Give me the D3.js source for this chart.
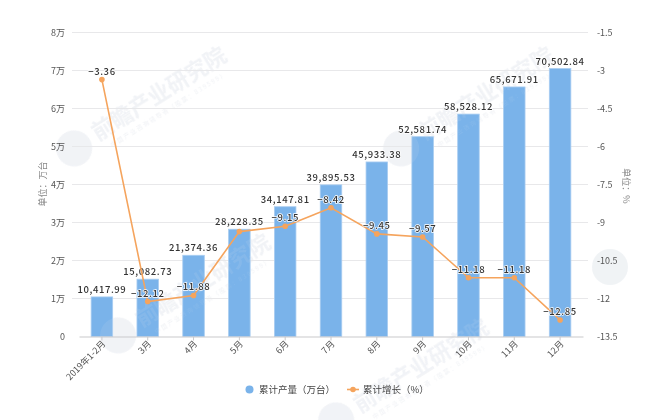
<!DOCTYPE html>
<html><head><meta charset="utf-8">
<script src="https://cdn.jsdelivr.net/npm/d3@7/dist/d3.min.js"></script>
<style>html,body{margin:0;padding:0;background:#fff}svg{display:block}text{font-family:"Noto Sans CJK SC","Noto Sans",sans-serif}#root{filter:blur(0.35px)}</style>
</head><body><svg id="c" width="650" height="420"><g id="root"></g></svg>
<script>
const categories=["2019年1-2月","3月","4月","5月","6月","7月","8月","9月","10月","11月","12月"];
const output=[10417.99,15082.73,21374.36,28228.35,34147.81,39895.53,45933.38,52581.74,58528.12,65671.91,70502.84];
const growth=[-3.36,-12.12,-11.88,-9.36,-9.15,-8.42,-9.45,-9.57,-11.18,-11.18,-12.85];
const growthLabels=["−3.36","−12.12","−11.88","","−9.15","−8.42","−9.45","−9.57","−11.18","−11.18","−12.85"];
const leftTicks=[0,10000,20000,30000,40000,50000,60000,70000,80000];
const rightTicks=[-1.5,-3,-4.5,-6,-7.5,-9,-10.5,-12,-13.5];
const legendNames=["累计产量（万台）","累计增长（%）"];
const unitLeft="单位：万台", unitRight="单位：%";
const wmMain="前瞻产业研究院", wmSub="中国产业咨询领导者（股票：839599）";

const svg=d3.select("#root");
const x=d3.scaleBand().domain(categories).range([79,583]).paddingInner(0.53).paddingOuter(0.265);
const yL=d3.scaleLinear().domain([0,80000]).range([336.5,32.5]);
const yR=d3.scaleLinear().domain([-13.5,-1.5]).range([336.5,32.5]);
const cx=d=>x(d)+x.bandwidth()/2;
const blue="#7ab3ea", orange="#f5a45d", fmt=d3.format(",.2f");

function wm(px,py,op){
  const g=svg.append("g").attr("transform",`translate(${px},${py}) rotate(-32)`).attr("fill","#e6e9ef").attr("opacity",op);
  g.append("text").attr("text-anchor","middle").attr("font-size",22).attr("font-weight",700).text(wmMain);
  g.append("text").attr("text-anchor","middle").attr("y",13).attr("font-size",6).attr("letter-spacing",1.6).text(wmSub);
  g.append("circle").attr("cx",-101).attr("cy",-6).attr("r",18);
}
function wmAll(op){
  wm(163,100,op);wm(490,100,op);wm(207,287,op);wm(425,372,op);
  svg.append("circle").attr("cx",610).attr("cy",267).attr("r",18).attr("fill","#e6e9ef").attr("opacity",op);
}
wmAll(0.5);

// grid
svg.append("g").selectAll("line").data(leftTicks.slice(1)).join("line")
  .attr("x1",72).attr("x2",588).attr("y1",d=>yL(d)).attr("y2",d=>yL(d))
  .attr("stroke","#e8e8ea").attr("stroke-width",1.2);

// bars
svg.append("g").selectAll("rect").data(output).join("rect")
  .attr("x",(d,i)=>x(categories[i])).attr("width",x.bandwidth())
  .attr("y",d=>yL(d)).attr("height",d=>yL(0)-yL(d))
  .attr("fill",blue).attr("stroke","#a9cdf1").attr("stroke-width",0.8);

// faint pass of the watermark over the bars
wmAll(0.1);

// axes
const gx=svg.append("g").attr("transform","translate(0,336.5)").call(d3.axisBottom(x).tickSize(4).tickSizeOuter(0));
gx.select(".domain").attr("stroke","#c9c9cc").attr("stroke-width",1.2);
gx.selectAll(".tick line").attr("stroke","#c9c9cc");
gx.selectAll("text").attr("font-size",9).attr("fill","#555")
  .attr("text-anchor","end").attr("dx",3).attr("dy",4)
  .attr("transform","rotate(-45)").style("transform-origin","0 8px");

const gl=svg.append("g").attr("transform","translate(68,0)").call(
  d3.axisLeft(yL).tickValues(leftTicks).tickSize(0).tickFormat(d=>d===0?"0":(d/10000)+"万"));
gl.select(".domain").remove();
gl.selectAll("text").attr("font-size",9).attr("fill","#555");

const gr=svg.append("g").attr("transform","translate(594,0)").call(
  d3.axisRight(yR).tickValues(rightTicks).tickSize(0).tickFormat(d=>String(d)));
gr.select(".domain").remove();
gr.selectAll("text").attr("font-size",9).attr("fill","#555");

// unit labels
svg.append("text").attr("transform","translate(46,184) rotate(-90)").attr("text-anchor","middle")
  .attr("font-size",9).attr("fill","#888").text(unitLeft);
svg.append("text").attr("transform","translate(623,186) rotate(90)").attr("text-anchor","middle")
  .attr("font-size",9).attr("fill","#888").text(unitRight);

// value labels
const label=(sel)=>sel.attr("text-anchor","middle").attr("font-size",9.5).attr("font-weight",500)
  .attr("letter-spacing",0.6).attr("fill","#333").attr("stroke","#fff").attr("stroke-width",1.4)
  .attr("paint-order","stroke");
label(svg.append("g").selectAll("text").data(output).join("text")
  .attr("x",(d,i)=>cx(categories[i])).attr("y",d=>yL(d)-4).text(d=>fmt(d)));

// line
const line=d3.line().x((d,i)=>cx(categories[i])).y(d=>yR(d));
svg.append("path").attr("d",line(growth)).attr("fill","none").attr("stroke",orange).attr("stroke-width",1.6);
svg.append("g").selectAll("circle").data(growth).join("circle")
  .attr("cx",(d,i)=>cx(categories[i])).attr("cy",d=>yR(d)).attr("r",2.8).attr("fill",orange);
label(svg.append("g").selectAll("text").data(growth).join("text")
  .attr("x",(d,i)=>cx(categories[i])).attr("y",d=>yR(d)-5).text((d,i)=>growthLabels[i]));

// legend
const lg=svg.append("g");
lg.append("circle").attr("cx",249.5).attr("cy",389.5).attr("r",4).attr("fill",blue);
lg.append("text").attr("x",259).attr("y",393).attr("font-size",9.5).attr("fill","#444").text(legendNames[0]);
lg.append("line").attr("x1",347).attr("x2",359).attr("y1",389.5).attr("y2",389.5).attr("stroke",orange).attr("stroke-width",1.6);
lg.append("circle").attr("cx",353).attr("cy",389.5).attr("r",2.8).attr("fill",orange);
lg.append("text").attr("x",363).attr("y",393).attr("font-size",9.5).attr("fill","#444").text(legendNames[1]);
</script></body></html>
